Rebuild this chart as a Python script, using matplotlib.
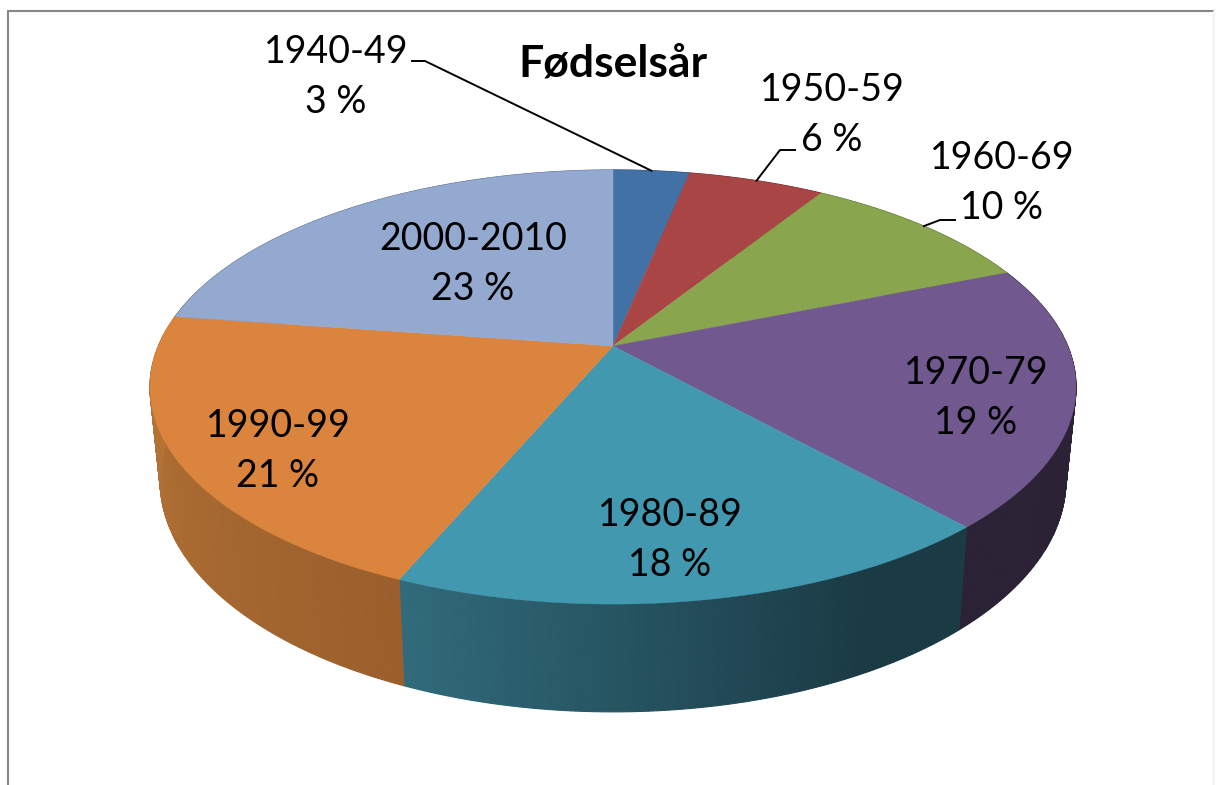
import numpy as np
import matplotlib
matplotlib.use("Agg")
import matplotlib.pyplot as plt
from matplotlib.colors import to_rgb

# Pie data, read from the wedges; the printed labels are these values rounded
decades = ["1940-49", "1950-59", "1960-69", "1970-79", "1980-89", "1990-99", "2000-2010"]
shares = [3.2, 5.7, 10.0, 19.45, 18.0, 20.95, 22.7]
title = "Fødselsår"

# Styling
top_colors = ["#4271A6", "#A94544", "#89A54E", "#71588F", "#4198AF", "#DB843D", "#93A9CF"]
side_left = ["#2A4263", "#652928", "#526330", "#2C2236", "#316B7B", "#BA7738", "#586580"]
side_right = ["#2A4263", "#652928", "#526330", "#2C2236", "#1A3A44", "#9A5F2C", "#586580"]
# part of the slice's side over which the shade changes, seen from the left
shade_span = [1, 1, 1, 1, 0.78, 1, 1]
label_pos = [(336, 77), (832, 115), (1002, 183), (976, 398), (670, 540), (278, 451), (473, 264)]
# elbow points of the leader lines, only the three outer labels have one
elbows = {0: [(412, 61), (425, 61)], 1: [(795, 150), (780, 150)], 2: [(955, 220), (940, 220)]}

# Perspective of the disc, in pixels of the picture
CX, CY = 613, 346
A, B, K = 454.7, 209.3, 0.189
SX, SY, DROP = 0.978, 1.065, 91


def project(theta):
    # theta in radians, clockwise from 12 o'clock
    x, y = np.sin(theta), np.cos(theta)
    w = 1 + K * y
    return CX + A * x / w, CY - B * y / w


def lower(px, py):
    return CX + (px - CX) * SX, CY + (py - CY) * SY + DROP


def mix(c1, c2, t):
    c1, c2 = np.array(to_rgb(c1)), np.array(to_rgb(c2))
    return tuple(c1 + (c2 - c1) * t)


fig = plt.figure(figsize=(12.17, 7.85), dpi=100)
ax = fig.add_axes([0, 0, 1, 1])
ax.set_xlim(0, 1217)
ax.set_ylim(785, 0)
ax.axis("off")
plt.rcParams["font.family"] = ["Lato", "DejaVu Sans"]

# chart frame
ax.plot([8, 8, 1213], [785, 11, 11], color="#868686", lw=1.5, solid_joinstyle="miter")
ax.plot([1213, 1213], [11, 785], color="#EEEEEE", lw=1)

edges = np.cumsum([0] + shares) / sum(shares) * 2 * np.pi

# side of the disc first, the top covers what should be hidden
for i in range(len(shares)):
    steps = int(shares[i] * 8)
    angles = np.linspace(edges[i], edges[i + 1], steps + 1)
    px, py = project(angles)
    qx, qy = lower(px, py)
    for j in range(steps):
        t = min(1, (1 - (j + 0.5) / steps) / shade_span[i])
        ax.fill([px[j], px[j + 1], qx[j + 1], qx[j]], [py[j], py[j + 1], qy[j + 1], qy[j]],
                color=mix(side_left[i], side_right[i], t), lw=0.8, zorder=2)

# top of the disc
for i in range(len(shares)):
    angles = np.linspace(edges[i], edges[i + 1], 120)
    px, py = project(angles)
    ax.fill(np.r_[CX, px], np.r_[CY, py], color=top_colors[i], lw=0.3, zorder=3)

# labels
for i, (name, share) in enumerate(zip(decades, shares)):
    lx, ly = label_pos[i]
    ax.text(lx, ly, f"{name}\n{round(share)} %", ha="center", va="center", fontsize=27,
            linespacing=1.49, color="black", zorder=5)
    if i in elbows:
        mx, my = project((edges[i] + edges[i + 1]) / 2)
        pts = elbows[i] + [(mx, my)]
        ax.plot([p[0] for p in pts], [p[1] for p in pts], color="black", lw=1.4, zorder=4)

ax.text(613, 64, title, ha="center", va="center", fontsize=32, fontweight="bold", zorder=5)

fig.savefig("out.png", dpi=100)
